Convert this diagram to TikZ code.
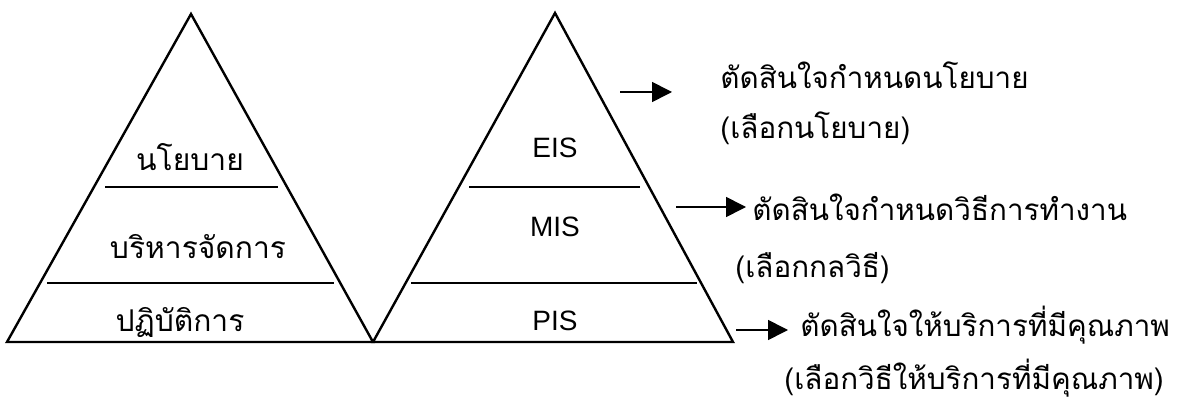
\documentclass[tikz,border=0pt]{standalone}
\usepackage{fontspec}
\setmainfont{Liberation Sans}
\newfontfamily\thaifont[Script=Thai]{Loma}
\usetikzlibrary{arrows.meta}
\tikzset{
  pyramid/.style={draw=black, line width=1.2pt, line join=miter},
  layer line/.style={draw=black, line width=0.8pt},
  level label/.style={font=\thaifont\fontsize{15}{18}\selectfont, inner sep=0pt},
  sys label/.style={font=\fontsize{14}{16}\selectfont, inner sep=0pt},
  note/.style={font=\thaifont\fontsize{14.8}{18}\selectfont, anchor=west, inner sep=0pt},
  pointer/.style={-{Triangle[length=10pt,width=10pt]}, line width=0.8pt}
}
\begin{document}
\begin{tikzpicture}[x=0.5pt, y=-0.5pt]
  \useasboundingbox (0,0) rectangle (1181,400);
  % organisation levels
  \coordinate (L1) at (7,342); \coordinate (Ltop) at (191,14); \coordinate (L2) at (373,342);
  \draw[pyramid] (L1) -- (Ltop) -- (L2) -- cycle;
  \draw[layer line] (105,187) -- (278,187);
  \draw[layer line] (47,283) -- (334,283);
  \node[level label] (policy) at (190,157) {นโยบาย};
  \node[level label] (manage) at (198,247) {บริหารจัดการ};
  \node[level label] (operate) at (180,322) {ปฏิบัติการ};
  % information systems
  \coordinate (R1) at (373,342); \coordinate (Rtop) at (555,13); \coordinate (R2) at (733,342);
  \draw[pyramid] (R1) -- (Rtop) -- (R2) -- cycle;
  \draw[layer line] (469,187) -- (640,187);
  \draw[layer line] (411,283) -- (697,283);
  \node[sys label] (eis) at (555,148) {EIS};
  \node[sys label] (mis) at (555,227) {MIS};
  \node[sys label] (pis) at (555,321) {PIS};
  % decisions
  \node[note] (dec1) at (720,75) {ตัดสินใจกำหนดนโยบาย};
  \node[note] (sel1) at (720,128) {(เลือกนโยบาย)};
  \node[note] (dec2) at (752,207) {ตัดสินใจกำหนดวิธีการทำงาน};
  \node[note] (sel2) at (735,268) {(เลือกกลวิธี)};
  \node[note] (dec3) at (800,325) {ตัดสินใจให้บริการที่มีคุณภาพ};
  \node[note] (sel3) at (784,378) {(เลือกวิธีให้บริการที่มีคุณภาพ)};
  \coordinate (a1) at (620,92); \coordinate (b1) at (672,92);
  \coordinate (a2) at (676,207); \coordinate (b2) at (746,207);
  \coordinate (a3) at (736,330); \coordinate (b3) at (788,330);
  \draw[pointer] (a1) -- (b1);
  \draw[pointer] (a2) -- (b2);
  \draw[pointer] (a3) -- (b3);
\end{tikzpicture}
\end{document}
